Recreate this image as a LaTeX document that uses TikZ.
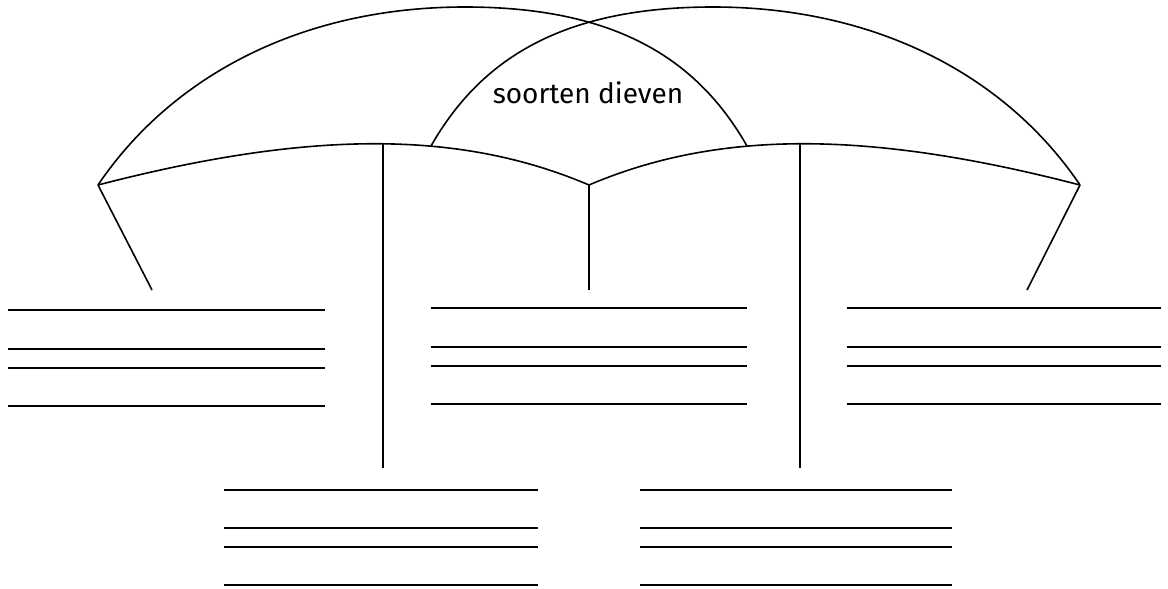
\documentclass[tikz,border=0pt]{standalone}
\usepackage{fontspec}
\setmainfont{Fira Sans}
\usepackage{tikz}
\usetikzlibrary{positioning}
\tikzset{x=1pt, y=-1pt,
frame/.style={ % Sets the properties for the arcs and stems
line width=1.6pt,
line join=round},
writeline/.style={ % Lines to write the answers on
line width=1.6pt},
title/.style={
anchor=base,
font=\fontsize{28}{30}\selectfont}}

\begin{document}
\begin{tikzpicture}
\useasboundingbox (0,0) rectangle (1168,589);
\coordinate (L) at (98,185);
\coordinate (R) at (1080,185);
\coordinate (C) at (589,185);
\coordinate (domeL) at (431,146);
\coordinate (domeR) at (747,146);
\coordinate (topL) at (465,7);
\coordinate (topR) at (713,7);
\coordinate (stemL) at (383,143.8);
\coordinate (stemR) at (800,143.8);
\coordinate (footL) at (383,468);
\coordinate (footR) at (800,468);
\coordinate (footC) at (589,290);
\coordinate (legL) at (152,290);
\coordinate (legR) at (1027,290);
\node[title] (title) at (588,103) {soorten dieven};
\draw[frame] (L) .. controls (171,77) and (300,7) .. (topL)
  .. controls (615,7) and (697,58.4) .. (domeR);
\draw[frame] (R) .. controls (1007,77) and (878,7) .. (topR)
  .. controls (563,7) and (481,58.4) .. (domeL);
\draw[frame] (L) .. controls (310,130) and (460,130) .. (C)
  .. controls (718,130) and (868,130) .. (R);
\draw[frame] (L) -- (legL);
\draw[frame] (R) -- (legR);
\draw[frame] (C) -- (footC);
\draw[frame] (stemL) -- (footL);
\draw[frame] (stemR) -- (footR);
\draw[writeline] (8,310) -- (325,310);
\draw[writeline] (8,349) -- (325,349);
\draw[writeline] (8,368) -- (325,368);
\draw[writeline] (8,406) -- (325,406);
\draw[writeline] (431,308) -- (747,308);
\draw[writeline] (431,347) -- (747,347);
\draw[writeline] (431,366) -- (747,366);
\draw[writeline] (431,404) -- (747,404);
\draw[writeline] (847,308) -- (1161,308);
\draw[writeline] (847,347) -- (1161,347);
\draw[writeline] (847,366) -- (1161,366);
\draw[writeline] (847,404) -- (1161,404);
\draw[writeline] (224,490) -- (538,490);
\draw[writeline] (224,528) -- (538,528);
\draw[writeline] (224,547) -- (538,547);
\draw[writeline] (224,585) -- (538,585);
\draw[writeline] (640,490) -- (952,490);
\draw[writeline] (640,528) -- (952,528);
\draw[writeline] (640,547) -- (952,547);
\draw[writeline] (640,585) -- (952,585);
\end{tikzpicture}
\end{document}
